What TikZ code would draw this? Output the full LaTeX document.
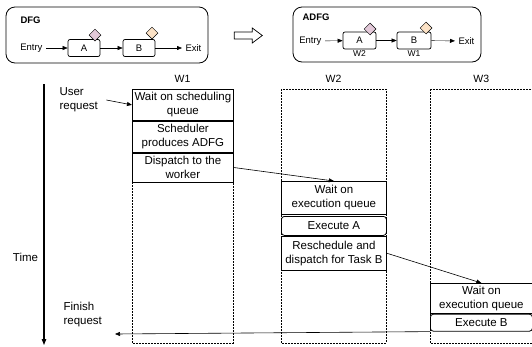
\documentclass[tikz,border=0pt]{standalone}
\usepackage{fontspec}
\setmainfont{Liberation Sans}
\usetikzlibrary{arrows.meta,shapes.geometric,shapes.arrows}
\definecolor{tagpink}{RGB}{226,200,216}
\definecolor{tagpeach}{RGB}{252,226,198}

\begin{document}
\begin{tikzpicture}[x=1pt,y=-1pt,
	font=\fontsize{11.5}{14}\selectfont,
	>={Triangle[length=5pt,width=4pt]},
	panel/.style={draw, line width=0.8pt, rounded corners=9pt, inner sep=0pt},
	title/.style={font=\bfseries\fontsize{9.5}{11}\selectfont, anchor=west},
	task/.style={draw, line width=0.7pt, rounded corners=2pt, minimum height=17pt, inner sep=0pt, font=\fontsize{9.5}{11}\selectfont},
	tag/.style={diamond, draw, line width=0.5pt, minimum size=12pt, inner sep=0pt},
	small/.style={font=\fontsize{9.5}{11}\selectfont},
	worker/.style={font=\fontsize{8.5}{10}\selectfont, inner sep=1pt, anchor=north},
	column/.style={dash pattern=on 2pt off 1pt, line width=0.6pt},
	stage/.style={draw, line width=0.8pt, anchor=north west, align=center, inner sep=0pt},
	]
	\useasboundingbox (0,0) rectangle (532,346);

	\node[panel, minimum width=202pt, minimum height=56pt] (dfg) at (107,35) {};
	\node[title] (dfgname) at (17,20) {DFG};
	\node[small, anchor=east] (entryA) at (46,48) {Entry};
	\node[task, minimum width=32pt] (taskA) at (84,48) {A};
	\node[task, minimum width=32pt] (taskB) at (139,48) {B};
	\node[small, anchor=west] (exitA) at (182,48) {Exit};
	\draw[->] (entryA) -- (taskA);
	\draw[->] (taskA) -- (taskB);
	\draw[->] (taskB) -- (exitA);
	\node[tag, fill=tagpink] (tagA) at (95,35) {};
	\node[tag, fill=tagpeach] (tagB) at (152,33) {};

	\node[single arrow, draw, line width=0.7pt, minimum height=28pt, minimum width=15pt,
		single arrow head extend=4pt, inner sep=3pt, single arrow tip angle=74] (becomes) at (246,35.5) {};

	\node[panel, minimum width=188pt, minimum height=55pt] (adfg) at (387,34.5) {};
	\node[title] (adfgname) at (299,17) {ADFG};
	\node[small, anchor=east] (entryB) at (325,41) {Entry};
	\node[task, minimum width=33pt] (taskA2) at (359.5,40.5) {A};
	\node[task, minimum width=34pt] (taskB2) at (414,40.5) {B};
	\node[small, anchor=west] (exitB) at (455,41) {Exit};
	\draw[->] (entryB) -- (taskA2);
	\draw[->] (taskA2) -- (taskB2);
	\draw[->] (taskB2) -- (exitB);
	\node[worker] (onW2) at (taskA2.south) {W2};
	\node[worker] (onW1) at (taskB2.south) {W1};
	\node[tag, fill=tagpink] (tagA2) at (370,29) {};
	\node[tag, fill=tagpeach] (tagB2) at (426,28) {};

	\foreach \l/\r/\n in {132/233/1, 281/386/2, 430/532.5/3}{
		\draw[column] (\l,89) rectangle (\r,343);
		\node[font=\fontsize{10.5}{12}\selectfont] (head\n) at ({(\l+\r)/2},79) {W\n};
	}

	\node[stage, minimum width=101pt, minimum height=31pt] (waitsched) at (132,89) {Wait on scheduling\\queue};
	\node[stage, minimum width=101pt, minimum height=31pt] (produce) at (waitsched.south west) {Scheduler\\produces ADFG};
	\node[stage, minimum width=101pt, minimum height=29pt] (dispatch) at (produce.south west) {Dispatch to the\\worker};

	\node[stage, minimum width=105pt, minimum height=33pt] (waitA) at (281,181) {Wait on\\execution queue};
	\node[stage, minimum width=105pt, minimum height=19pt, rounded corners=3pt] (execA) at (281,216) {Execute A};
	\node[stage, minimum width=105pt, minimum height=34pt] (resched) at (execA.south west) {Reschedule and\\dispatch for Task B};

	\node[stage, minimum width=102pt, minimum height=30pt] (waitB) at (430,283) {Wait on\\execution queue};
	\node[stage, minimum width=102pt, minimum height=17pt, rounded corners=3pt] (execB) at (waitB.south west) {Execute B};

	\coordinate (tstart) at (44,84);
	\coordinate (tend) at (44,345);
	\draw[line width=1.1pt, -{Triangle[length=6pt,width=4.5pt]}] (tstart) -- (tend);
	\node (time) at (25.5,257) {Time};

	\node[align=left, anchor=west] (user) at (56,100) {User\\request};
	\node[align=left, anchor=west] (finish) at (60,315) {Finish\\request};
	\coordinate (done) at (115,334);

	\draw[->, line width=0.6pt] ([xshift=5pt]user.east) -- (waitsched.west);
	\draw[->, line width=0.6pt] (dispatch.east) -- (waitA.north);
	\draw[->, line width=0.6pt] (resched.east) -- (waitB.north);
	\draw[->, line width=0.6pt] (execB.south west) -- (done);
\end{tikzpicture}
\end{document}
